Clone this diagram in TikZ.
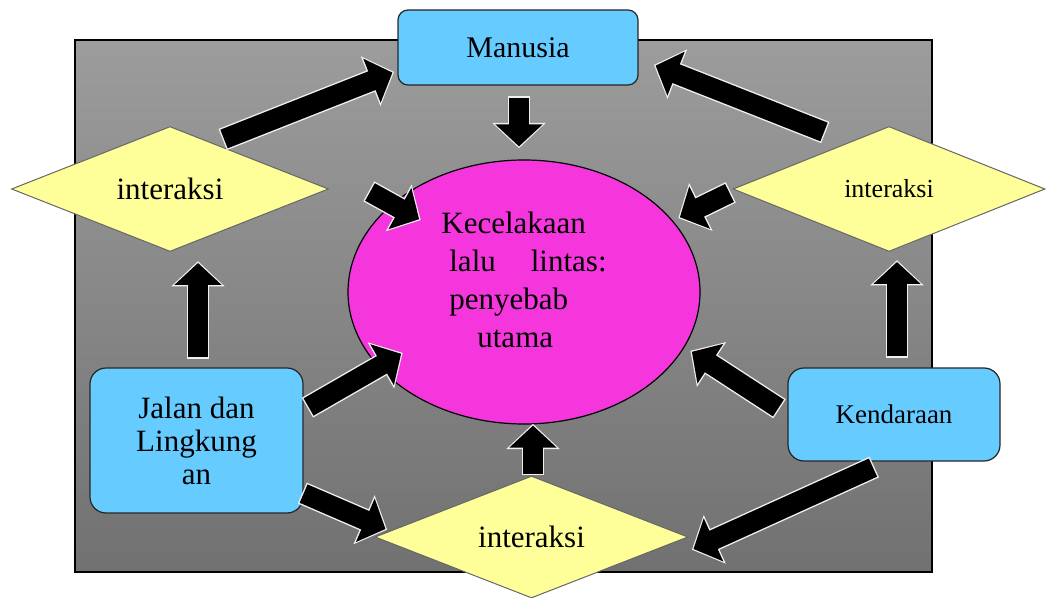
\documentclass[tikz,border=0pt]{standalone}
\usepackage{fontspec}
\setmainfont{Liberation Serif}
\usetikzlibrary{shapes.geometric,arrows.meta}
\definecolor{boxblue}{RGB}{102,204,255}
\definecolor{diayellow}{RGB}{255,255,153}
\definecolor{crashpink}{RGB}{244,54,220}
\definecolor{paneltop}{RGB}{156,156,156}
\definecolor{panelbottom}{RGB}{113,113,113}

\begin{document}
\begin{tikzpicture}[x=0.5pt,y=-0.5pt,
    factorbox/.style={rectangle,rounded corners=8pt,draw=black!85,line width=0.6pt,fill=boxblue,
        minimum width=106.5pt,inner sep=0pt,align=center},
    dia/.style={diamond,aspect=2.5,draw=black!60,line width=0.5pt,fill=diayellow,inner sep=0pt,
        minimum width=157pt,minimum height=62.5pt},
    blockarrow/.style={line width=10pt,black,-{Triangle[length=11pt,width=23pt]},
        preaction={draw=white!88!gray,line width=11.4pt,-{Triangle[length=12.6pt,width=26pt]},
        shorten >=-0.9pt,shorten <=-0.7pt}}]
    \useasboundingbox (0,0) rectangle (1048,598);
    \draw[line width=1.2pt,top color=paneltop,bottom color=panelbottom] (75,40) rectangle (932,572);

    \node[factorbox,rounded corners=5pt,minimum width=120pt,minimum height=37.5pt,
        font=\fontsize{15}{17}\selectfont] (man) at (518,47.5) {Manusia};
    \node[factorbox,minimum height=72.5pt,font=\fontsize{15.5}{16.5}\selectfont] (jalan) at (196.5,440.5)
        {Jalan dan\\Lingkung\\an};
    \node[factorbox,minimum width=106pt,minimum height=46.5pt,font=\fontsize{13.5}{15}\selectfont]
        (kend) at (894,414.5) {Kendaraan};
    \node[dia,minimum width=158.5pt,font=\fontsize{15.5}{17}\selectfont] (ldia) at (170,189) {interaksi};
    \node[dia,minimum width=156pt,font=\fontsize{13}{15}\selectfont] (rdia) at (889,189) {interaksi};
    \node[dia,minimum width=156.5pt,minimum height=61pt,font=\fontsize{15.5}{17}\selectfont]
        (bdia) at (531.5,537) {interaksi};
    \node[ellipse,draw=black,line width=0.6pt,fill=crashpink,minimum width=176pt,minimum height=132pt]
        (crash) at (524,292) {};
    \node[inner sep=0pt,align=left,font=\fontsize{15.5}{19}\selectfont] (crashtext)
        at ([yshift=6pt]crash.center)
        {Kecelakaan\\\hspace*{4pt}lalu\hspace{17.5pt}lintas:\\\hspace*{4pt}penyebab\\\hspace*{18pt}utama};

    \draw[blockarrow] ([shift={(54,13)}]ldia.north) -- ([shift={(-5,-13)}]man.south west);
    \draw[blockarrow] ([shift={(-65,6)}]rdia.north) -- ([shift={(17,-20)}]man.south east);
    \draw[blockarrow] ([shift={(1,12)}]man.south) -- ([shift={(-5,-13)}]crash.north);
    \draw[blockarrow] ([shift={(41,3)}]ldia.east) -- ([shift={(20,21)}]crash.north west);
    \draw[blockarrow] ([shift={(-3,4)}]rdia.west) -- ([shift={(31,19)}]crash.north east);
    \draw[blockarrow] ([shift={(1.5,-10)}]jalan.north) -- ([shift={(28,11)}]ldia.south);
    \draw[blockarrow] ([shift={(3,-11)}]kend.north) -- ([shift={(8,10)}]rdia.south);
    \draw[blockarrow] ([shift={(5,-33.5)}]jalan.east) -- ([shift={(2,-32)}]crash.south west);
    \draw[blockarrow] ([shift={(-9,-6.5)}]kend.west) -- ([shift={(43,-34)}]crash.south east);
    \draw[blockarrow] ([shift={(1.5,-2)}]bdia.north) -- ([shift={(9,1)}]crash.south);
    \draw[blockarrow] ([shift={(0,-20)}]jalan.south east) -- ([shift={(11,-8)}]bdia.west);
    \draw[blockarrow] ([shift={(-21,6)}]kend.south) -- ([shift={(5,12)}]bdia.east);
\end{tikzpicture}
\end{document}
